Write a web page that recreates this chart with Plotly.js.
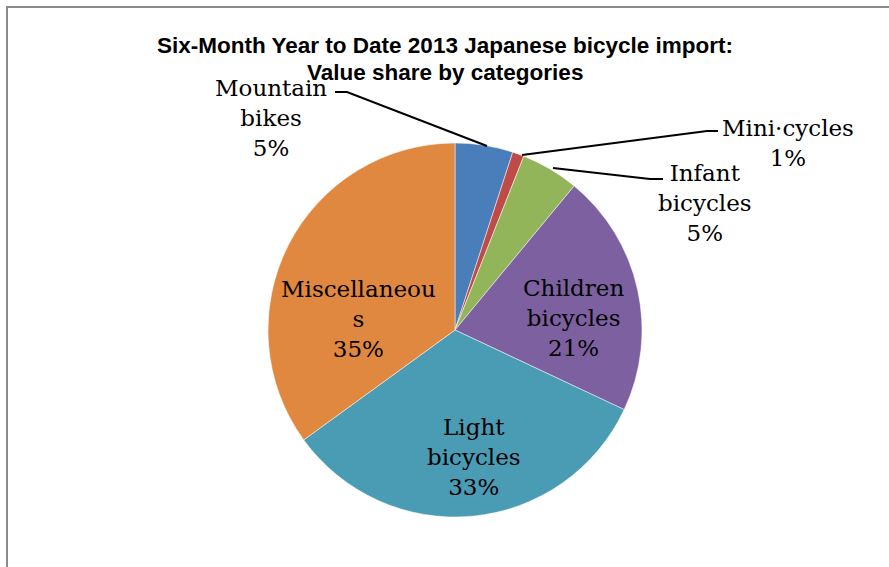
<!DOCTYPE html>
<html>
<head>
<meta charset="utf-8">
<script src="https://cdn.plot.ly/plotly-3.0.1.min.js"></script>
<style>
  html, body { margin: 0; padding: 0; background: #fff; }
  #wrap { position: relative; width: 889px; height: 567px; overflow: hidden; }
  #chart { width: 889px; height: 567px; }
  #frame { position: absolute; left: 6px; top: 6px; width: 900px; height: 600px;
           border-left: 2px solid #8a8a8a; border-top: 2px solid #8a8a8a; pointer-events: none; }
</style>
</head>
<body>
<div id="wrap">
  <div id="chart"></div>
  <div id="frame"></div>
</div>
<script>
// ---- data ----
const categories = ["Mountain bikes", "Mini·cycles", "Infant bicycles", "Children bicycles", "Light bicycles", "Miscellaneous"];
const shares = [5, 1, 5, 21, 33, 35];
const displayLabels = ["Mountain<br>bikes", "Mini·cycles", "Infant<br>bicycles", "Children<br>bicycles", "Light<br>bicycles", "Miscellaneou<br>s"];
const sliceColors = ["#4a7ebb", "#be4b48", "#93b55a", "#7d60a0", "#4a9cb5", "#e0883f"];
const titleLines = ["Six-Month Year to Date 2013 Japanese bicycle import:", "Value share by categories"];

// ---- layout helpers (pixel -> paper) ----
const W = 889, H = 567;
const px = x => x / W;
const py = y => 1 - y / H;

// label anchor positions (pixel centres)
const labelPos = [[271, 118], [788, 143], [705, 203], [573, 318], [474, 457], [358, 319]];

const total = shares.reduce((a, b) => a + b, 0);
const annotations = categories.map((c, i) => ({
  xref: "paper", yref: "paper",
  x: px(labelPos[i][0]), y: py(labelPos[i][1]),
  xanchor: "center", yanchor: "middle",
  text: displayLabels[i] + "<br>" + Math.round(shares[i] / total * 100) + "%",
  showarrow: false,
  align: "center",
  font: { family: "DejaVu Serif, Liberation Serif, serif", size: 23, color: "#000" }
}));

const titleFont = { family: "Liberation Sans, Arial, sans-serif", size: 22.5, color: "#000" };
// second title line (tighter line spacing than Plotly's multi-line title)
annotations.push({
  xref: "paper", yref: "paper",
  x: px(445), y: py(72), xanchor: "center", yanchor: "middle",
  text: "<b>" + titleLines[1] + "</b>", showarrow: false, font: titleFont
});

// leader lines for the small slices
const leaders = [
  [[335, 92], [347, 92], [487, 146]],
  [[718, 131], [707, 131], [522, 155]],
  [[663, 179], [650, 179], [553, 168]]
];
const shapes = leaders.map(pts => ({
  type: "path", xref: "paper", yref: "paper",
  path: pts.map((p, k) => (k ? "L" : "M") + px(p[0]) + "," + py(p[1])).join(" "),
  line: { color: "#000", width: 2 }
}));

const cx = 455, cy = 330, r = 187;
const trace = {
  type: "pie",
  labels: categories,
  values: shares,
  sort: false,
  direction: "clockwise",
  rotation: 0,
  textinfo: "none",
  hoverinfo: "label+percent",
  marker: { colors: sliceColors, line: { color: "#ffffff", width: 0.5 } },
  domain: { x: [px(cx - r), px(cx + r)], y: [py(cy + r), py(cy - r)] },
  showlegend: false
};

const layout = {
  width: W, height: H,
  margin: { l: 0, r: 0, t: 0, b: 0 },
  paper_bgcolor: "#fff",
  title: {
    text: "<b>" + titleLines[0] + "</b>",
    x: px(445), xanchor: "center",
    y: py(45), yanchor: "middle",
    font: titleFont
  },
  annotations: annotations,
  shapes: shapes,
  showlegend: false
};

Plotly.newPlot("chart", [trace], layout, { displayModeBar: false, staticPlot: true });
</script>
</body>
</html>
